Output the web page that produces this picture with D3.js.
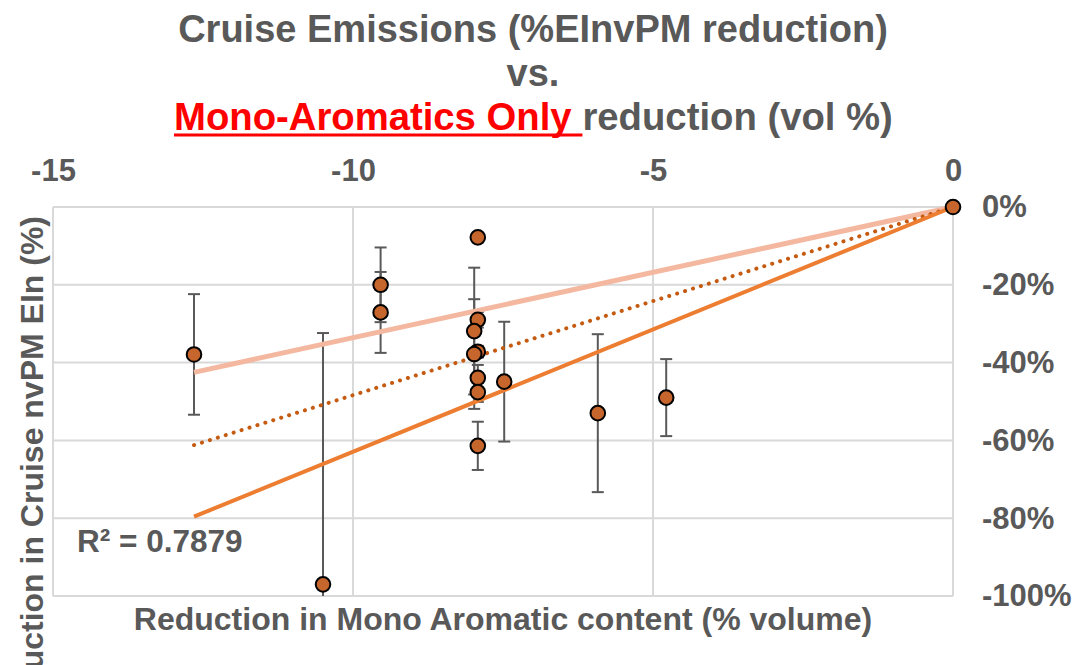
<!DOCTYPE html>
<html><head><meta charset="utf-8">
<script src="https://cdn.jsdelivr.net/npm/d3@7"></script>
<style>
body{margin:0;background:#fff}
svg{display:block}
text{font-family:"Liberation Sans",Arial,sans-serif;font-weight:bold}
</style>
</head><body>
<svg id="c" width="1092" height="665"></svg>
<script>
// ---- data ----
const xTicks = [-15, -10, -5, 0];
const yTicks = [0, -20, -40, -60, -80, -100];
const monoReduction   = [-12.65, -10.5, -9.54, -9.54, -7.92, -7.92, -7.98, -7.92, -7.98, -7.92, -7.92, -7.92, -7.48, -5.92, -4.78, 0];
const einvpmReduction = [-37.9, -97.0, -20.0, -27.1, -7.8, -29.0, -31.9, -37.2, -37.8, -43.9, -47.6, -61.4, -44.9, -53.0, -49.0, 0];
const errorPlusMinus  = [15.5, 64.6, 9.6, 10.4, 0, 2.0, 16.3, 1.5, 14.1, 3.3, 2.5, 6.2, 15.4, 20.3, 9.9, 0];
const trendX      = [-12.65, 0];
const trendLight  = [-42.5, 0];
const trendDotted = [-61.2, 0];
const trendSolid  = [-79.6, 0];
const rSquared = "R² = 0.7879";
const titleLine1 = "Cruise Emissions (%EInvPM reduction)";
const titleLine2 = "vs.";
const titleRed = "Mono-Aromatics Only ";
const titleRest = "reduction (vol %)";
const xTitle = "Reduction in Mono Aromatic content (% volume)";
const yTitle = "Reduction in Cruise nvPM EIn (%)";

// ---- layout ----
const svg = d3.select("#c");
const L = 53, R = 953, T = 207, B = 596;
const x = d3.scaleLinear().domain([-15, 0]).range([L, R]);
const y = d3.scaleLinear().domain([-100, 0]).range([B, T]);
const gray = "#595959", grid = "#D9D9D9";

svg.append("defs").append("clipPath").attr("id", "clip")
  .append("rect").attr("x", L - 10).attr("y", T - 10).attr("width", R - L + 20).attr("height", B - T + 10);

// gridlines
const gGrid = svg.append("g");
gGrid.selectAll("line.h").data(yTicks).join("line")
  .attr("x1", L).attr("x2", R).attr("y1", d => y(d)).attr("y2", d => y(d))
  .attr("stroke", grid).attr("stroke-width", 2);
gGrid.selectAll("line.v").data(xTicks).join("line")
  .attr("y1", T).attr("y2", B).attr("x1", d => x(d)).attr("x2", d => x(d))
  .attr("stroke", grid).attr("stroke-width", 2);

// axes with d3 axis generators (labels only)
const xAxis = svg.append("g").attr("transform", `translate(0,${T})`)
  .call(d3.axisTop(x).tickValues(xTicks).tickSize(0).tickPadding(26).tickFormat(d => String(d)));
xAxis.select(".domain").remove();
xAxis.selectAll("text").attr("font-size", 31).attr("fill", gray)
  .style("font-family", '"Liberation Sans",Arial,sans-serif').style("font-weight", "bold");

const yAxis = svg.append("g").attr("transform", `translate(${R},0)`)
  .call(d3.axisRight(y).tickValues(yTicks).tickSize(0).tickPadding(29).tickFormat(d => d + "%"));
yAxis.select(".domain").remove();
yAxis.selectAll("text").attr("font-size", 31).attr("fill", gray).attr("text-anchor", "start")
  .style("font-family", '"Liberation Sans",Arial,sans-serif').style("font-weight", "bold");

// error bars
const pts = monoReduction.map((v, i) => ({x: v, y: einvpmReduction[i], e: errorPlusMinus[i]}));
const gErr = svg.append("g").attr("clip-path", "url(#clip)").attr("stroke", gray).attr("stroke-width", 2);
pts.filter(d => d.e > 0).forEach(d => {
  const cx = x(d.x), y1 = y(d.y + d.e), y2 = y(d.y - d.e);
  gErr.append("line").attr("x1", cx).attr("x2", cx).attr("y1", y1).attr("y2", y2);
  gErr.append("line").attr("x1", cx - 6).attr("x2", cx + 6).attr("y1", y1).attr("y2", y1);
  gErr.append("line").attr("x1", cx - 6).attr("x2", cx + 6).attr("y1", y2).attr("y2", y2);
});

// trend lines
const line = d3.line().x(d => x(d[0])).y(d => y(d[1]));
const tl = arr => trendX.map((v, i) => [v, arr[i]]);
svg.append("path").attr("d", line(tl(trendLight))).attr("fill", "none")
  .attr("stroke", "#F4B8A0").attr("stroke-width", 5);
svg.append("path").attr("d", line(tl(trendDotted))).attr("fill", "none")
  .attr("stroke", "#C55A11").attr("stroke-width", 4).attr("stroke-linecap", "round")
  .attr("stroke-dasharray", "0.1 8.2");
svg.append("path").attr("d", line(tl(trendSolid))).attr("fill", "none")
  .attr("stroke", "#ED7D31").attr("stroke-width", 4);

// points
svg.append("g").selectAll("circle").data(pts).join("circle")
  .attr("cx", d => x(d.x)).attr("cy", d => y(d.y)).attr("r", 7.3)
  .attr("fill", "#C6662C").attr("stroke", "#000").attr("stroke-width", 2);

// R2
svg.append("text").attr("x", 77).attr("y", 552).attr("font-size", 31.5).attr("fill", gray).text(rSquared);

// axis titles
svg.append("text").attr("x", (L + R) / 2).attr("y", 630).attr("text-anchor", "middle")
  .attr("font-size", 32).attr("fill", gray).text(xTitle);
svg.append("text").attr("transform", "translate(43,216) rotate(-90)").attr("text-anchor", "end")
  .attr("font-size", 32).attr("fill", gray).text(yTitle);

// title
function fitText(sel, targetW, cx) {
  const w = sel.node().getComputedTextLength();
  const s = targetW / w;
  sel.attr("transform", `translate(${cx},0) scale(${s},1) translate(${-cx},0)`);
}
const t1 = svg.append("text").attr("x", 533).attr("y", 42).attr("text-anchor", "middle")
  .attr("font-size", 39).attr("fill", gray).text(titleLine1);
fitText(t1, 710, 533);
const t2 = svg.append("text").attr("x", 533).attr("y", 86).attr("text-anchor", "middle")
  .attr("font-size", 39).attr("fill", gray).text(titleLine2);
t2.attr("transform", t1.attr("transform"));

const g3 = svg.append("g");
const tr = g3.append("text").attr("x", 0).attr("y", 130).attr("font-size", 39).attr("fill", "#FF0000")
  .attr("xml:space", "preserve").style("white-space", "pre").text(titleRed);
const wr = tr.node().getComputedTextLength();
const tg = g3.append("text").attr("x", wr).attr("y", 130).attr("font-size", 39).attr("fill", gray).text(titleRest);
const wg = tg.node().getComputedTextLength();
g3.append("rect").attr("x", 0).attr("y", 133.5).attr("width", wr).attr("height", 3).attr("fill", "#FF0000");
const s3 = 719 / (wr + wg);
g3.attr("transform", `translate(174,0) scale(${s3},1)`);
</script>
</body></html>
